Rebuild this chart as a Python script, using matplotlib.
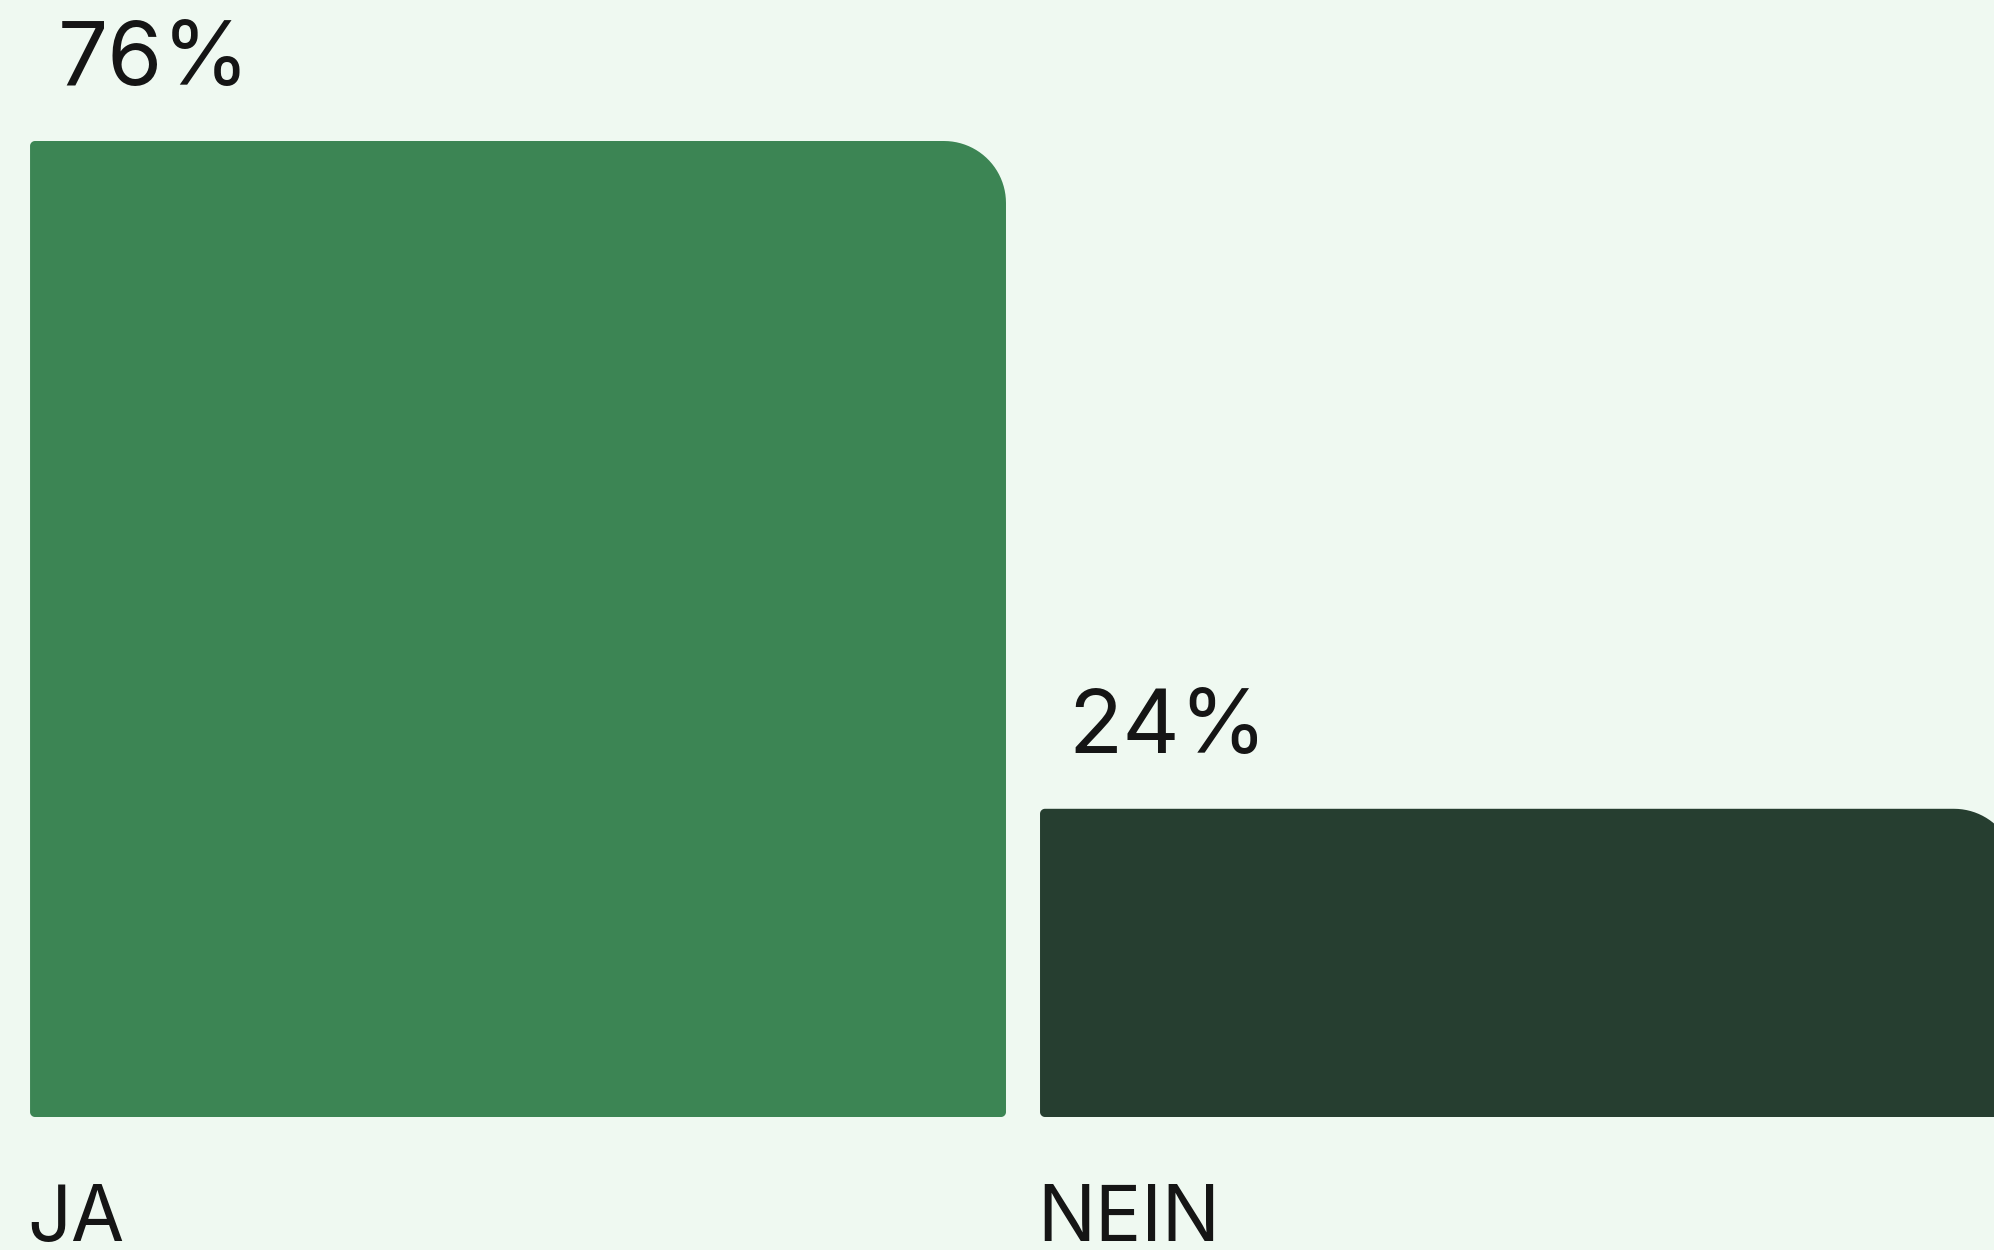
import numpy as np
import matplotlib
matplotlib.use("Agg")
import matplotlib.pyplot as plt
from matplotlib.path import Path
from matplotlib.patches import PathPatch
from matplotlib.transforms import IdentityTransform

# ---- data ----
categories = ["JA", "NEIN"]
values = [76, 24]
value_labels = ["76%", "24%"]
bar_colors = ["#3C8554", "#263E30"]

BG = "#EFF9F1"
TEXT = "#151515"
DPI = 100
plt.rcParams['font.family'] = ['Inter', 'DejaVu Sans']

fig = plt.figure(figsize=(19.94, 12.5), dpi=DPI, facecolor=BG)
ax = fig.add_axes([0, 0, 1, 1])
ax.set_facecolor(BG)
ax.set_xlim(-0.5129, 1.4614)
ax.set_ylim(-10.357, 86.98)
ax.axis('off')

width = 0.9663
px = lambda p: p * 72.0 / DPI  # pixels -> points


def rounded_bar_path(x0, y0, x1, y1, r_small, r_big):
    """Path in display pixels (y up): top-right big radius, others small."""
    pts = []
    def arc(cx, cy, r, a0, a1, n=24):
        t = np.linspace(np.radians(a0), np.radians(a1), n)
        return list(zip(cx + r * np.cos(t), cy + r * np.sin(t)))
    pts += arc(x0 + r_small, y0 + r_small, r_small, 180, 270)   # bottom-left
    pts += arc(x1 - r_small, y0 + r_small, r_small, 270, 360)   # bottom-right
    pts += arc(x1 - r_big, y1 - r_big, r_big, 0, 90)            # top-right
    pts += arc(x0 + r_small, y1 - r_small, r_small, 90, 180)    # top-left
    pts.append(pts[0])
    codes = [Path.MOVETO] + [Path.LINETO] * (len(pts) - 2) + [Path.CLOSEPOLY]
    return Path(pts, codes)


fig.canvas.draw()
for i, (cat, v, lab, col) in enumerate(zip(categories, values, value_labels, bar_colors)):
    left = i - width / 2
    right = i + width / 2
    (dx0, dy0) = ax.transData.transform((left, 0))
    (dx1, dy1) = ax.transData.transform((right, v))
    path = rounded_bar_path(dx0, dy0, dx1, dy1, 5, 62)
    patch = PathPatch(path, facecolor=col, edgecolor='none', transform=IdentityTransform())
    fig.add_artist(patch)

    ax.annotate(lab, xy=(left, v), xytext=(px(28), px(56)), textcoords='offset points',
                ha='left', va='baseline', fontsize=64, color=TEXT, annotation_clip=False)
    ax.annotate(cat, xy=(left, 0), xytext=(px(-3), -px(124)), textcoords='offset points',
                ha='left', va='baseline', fontsize=55.5, color=TEXT, annotation_clip=False)

fig.savefig("out.png", dpi=DPI, facecolor=BG)
